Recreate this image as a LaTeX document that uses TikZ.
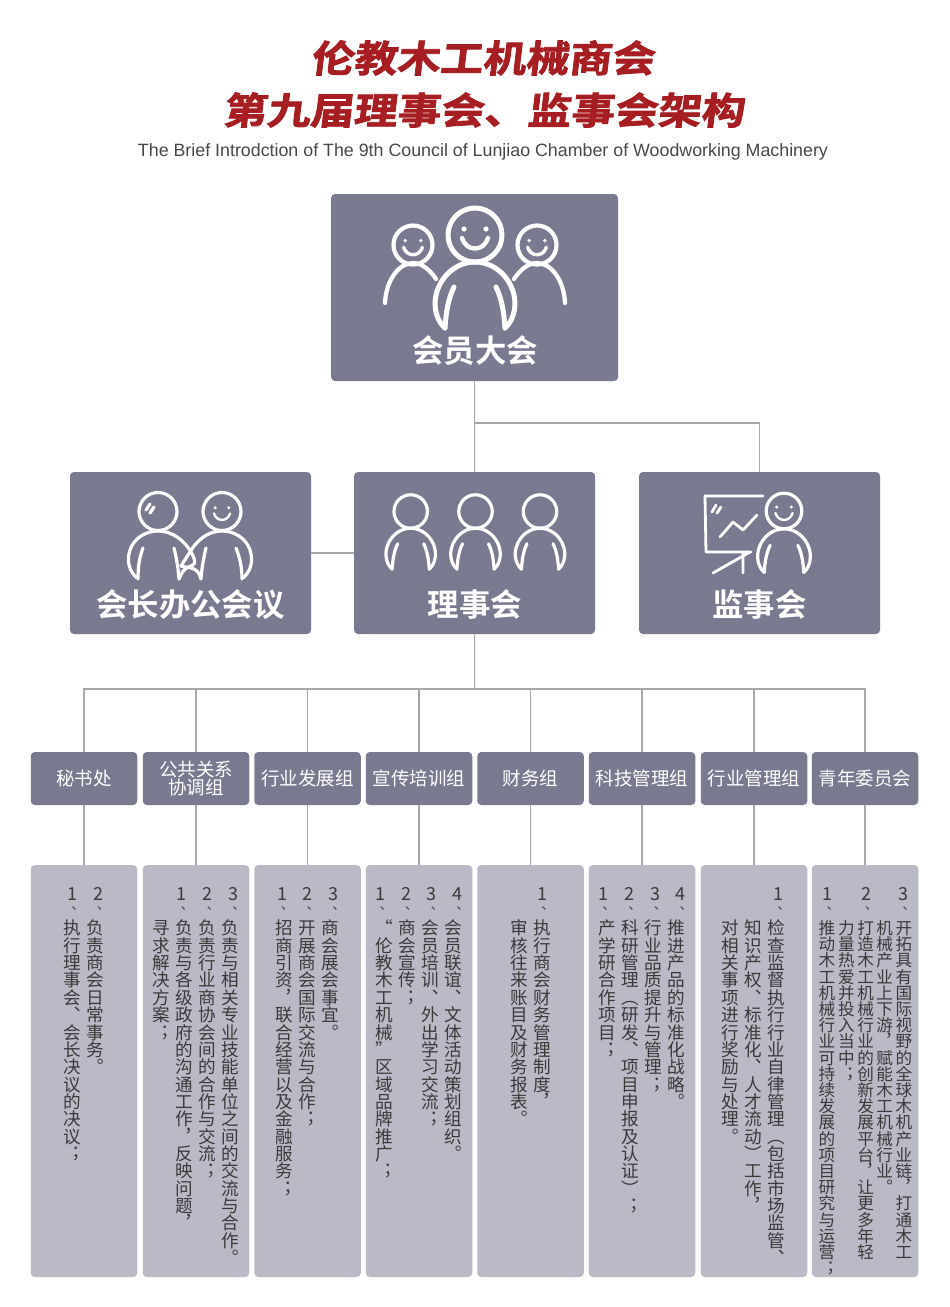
\documentclass[tikz,border=0pt]{standalone}
\usepackage{fontspec}
\setmainfont{Noto Sans CJK SC}
\newfontfamily\vertfont[RawFeature=+vert]{Noto Sans CJK SC}
\newfontfamily\flatfont{Noto Sans CJK SC}
\newfontfamily\titlefont[FakeSlant=0.12,FakeStretch=1.16,FakeBold=2.2]{Noto Sans CJK SC Bold}
\newfontfamily\boldfont{Noto Sans CJK SC Bold}
\newfontfamily\latinfont{Liberation Sans}
\definecolor{boxdark}{HTML}{797A90}
\definecolor{boxlight}{HTML}{B9BAC6}
\definecolor{linegray}{HTML}{A8A8A8}
\definecolor{titlered}{HTML}{A61E22}
\definecolor{dutyink}{HTML}{3A3A3A}
\def\stackpitch{17.35pt}
\protected\def\flatq#1{{\flatfont #1}}
\makeatletter
\newcommand{\vstackdo}[1]{\vbox{\baselineskip=\stackpitch\lineskiplimit=-\maxdimen
    \@tfor\stackch:=#1\do{\hbox to 2em{\hss\rule{0pt}{0.88em}\stackch\hss}}}}
\makeatother
\newcommand{\vstack}[1]{\edef\stacktmp{#1}\expandafter\vstackdo\expandafter{\stacktmp}}
\newcommand{\numstack}[1]{\vbox{\baselineskip=\stackpitch\lineskiplimit=-\maxdimen
    \hbox to 2em{\hss\rule{0pt}{0.88em}{\flatfont\fontsize{18}{18}\selectfont #1}\hss}
    \hbox to 2em{\hss\kern-4.6pt\rule{0pt}{0.88em}{\vertfont\fontsize{13}{13}\selectfont 、}\hss}}}
\tikzset{
    person/.pic={
        \draw[iconline,pic actions] (0,0) circle (27);
        \draw[iconline,pic actions] (-30,93) .. controls (-36,88) and (-43,75) .. (-38.5,58) .. controls (-33,39) and (-17,27) .. (0,27) .. controls (17,27) and (33,39) .. (38.5,58) .. controls (43,75) and (36,88) .. (30,93);
        \draw[iconline,pic actions] (-21,52) .. controls (-27,64) and (-29,78) .. (-30,93);
        \draw[iconline,pic actions] (21,52) .. controls (27,64) and (29,78) .. (30,93);
    },
    smile/.pic={
        \fill[white] (-11,-6) circle (2.6);
        \fill[white] (11,-6) circle (2.6);
        \draw[iconline,pic actions] (-13,3) .. controls (-9,17) and (9,17) .. (13,3);
    },
    sideperson/.pic={
        \draw[iconline,pic actions] (0,0) circle (19.5);
        \draw[iconline,pic actions] (-28,58) .. controls (-27,35) and (-14,18) .. (0,18) .. controls (9,18) and (17,25) .. (23,34);
    }
}
\begin{document}
\begin{tikzpicture}[x=1pt,y=-1pt]
    \tikzstyle{iconline}=[draw=white,line cap=round,line join=round]
    \tikzstyle{bigbox}=[rectangle,fill=boxdark,rounded corners=4pt,inner sep=0pt,outer sep=0pt]
    \tikzstyle{biglabel}=[text=white,inner sep=0pt,font=\boldfont\fontsize{31.4}{31}\selectfont]
    \tikzstyle{groupbox}=[bigbox,minimum width=106.5pt,minimum height=53pt,text=white,align=center,font=\fontsize{18.5}{18}\selectfont]
    \tikzstyle{dutybox}=[rectangle,fill=boxlight,rounded corners=4pt,inner sep=0pt,outer sep=0pt,minimum width=106.5pt,minimum height=412pt]
    \tikzstyle{dutytext}=[anchor=north,inner sep=0pt,text=dutyink,font=\vertfont\fontsize{17.6}{17}\selectfont]
    \tikzstyle{conn}=[draw=linegray,line width=1.3pt]
    \useasboundingbox (0,0) rectangle (950,1307);

    \node[text=titlered,inner sep=0pt,font=\titlefont\fontsize{37}{37}\selectfont] (titleone) at (482.5,58) {伦教木工机械商会};
    \node[text=titlered,inner sep=0pt,xscale=1.012,transform shape,font=\titlefont\fontsize{37}{37}\selectfont] (titletwo) at (483.5,110) {第九届理事会、监事会架构};
    \node[text=black!72,inner sep=0pt,font=\latinfont\fontsize{17.82}{18}\selectfont] (subtitle) at (483,151.5) {The Brief Introdction of The 9th Council of Lunjiao Chamber of Woodworking Machinery};

    \node[bigbox,minimum width=287pt,minimum height=187pt] (assembly) at (474.6,287.5) {};
    \node[bigbox,minimum width=241pt,minimum height=162pt] (office) at (190.5,553) {};
    \node[bigbox,minimum width=241pt,minimum height=162pt] (council) at (474.6,553) {};
    \node[bigbox,minimum width=241pt,minimum height=162pt] (supervisors) at (759.5,553) {};
    \node[biglabel] (assemblylabel) at (475,351) {会员大会};
    \node[biglabel] (officelabel) at (190.5,605) {会长办公会议};
    \node[biglabel] (councillabel) at (475,605) {理事会};
    \node[biglabel] (supervisorslabel) at (759.5,605) {监事会};

    \foreach \groupx/\grouptext [count=\i] in {84/秘书处,196/{公共关系\\协调组},307.5/行业发展组,419/宣传培训组,530.5/财务组,642/科技管理组,754/行业管理组,865/青年委员会}
    {
        \node[groupbox] (group\i) at (\groupx,778.5) {\grouptext};
        \node[dutybox] (duty\i) at (\groupx,1071) {};
        \draw[conn] (group\i.south) -- (duty\i.north);
    }

    \coordinate (hubtop) at (assembly.south |- 0,423);
    \coordinate (hubgroups) at (council.south |- 0,689);
    \draw[conn] (assembly.south) -- (council.north);
    \draw[conn] (hubtop) -| (supervisors.north);
    \draw[conn] (office.east) -- (council.west);
    \draw[conn] (council.south) -- (hubgroups);
    \draw[conn] (group1.north) |- (hubgroups) -| (group8.north);
    \foreach \i in {2,...,7}
        \draw[conn] (group\i.north) -- (group\i.north |- hubgroups);

    \pic[line width=5pt] at (475,235) {person};
    \pic[line width=4.4pt] at (475,235) {smile};
    \pic[line width=4.2pt] at (413,245) {sideperson};
    \pic[scale=.72,line width=3.4pt] at (413,245) {smile};
    \pic[line width=4.2pt,xscale=-1] at (537,245) {sideperson};
    \pic[scale=.72,line width=3.4pt] at (537,245) {smile};

    \foreach \headx in {410.7,475.5,540}
        \pic[scale=.62,line width=3.2pt] at (\headx,511.5) {person};

    \begin{scope}[line width=3.2pt]
        \draw[iconline] (158,511.5) circle (19);
        \draw[iconline] (222,511.5) circle (19);
        \pic[scale=.62,line width=2.4pt] at (222,511.5) {smile};
        \draw[iconline] (146,510) -- (150,504);
        \draw[iconline] (150,513) -- (154,507);
        \draw[iconline] (137,578) .. controls (130,572) and (126,562) .. (130,550) .. controls (134,538) and (146,531) .. (158,531) .. controls (172,531) and (184,540) .. (191,552) .. controls (195,559) and (196,563) .. (193,565) .. controls (190,567) and (184,566) .. (179,579) .. controls (178,566) and (176,556) .. (174,548);
        \draw[iconline] (143,548) .. controls (139,558) and (138,568) .. (138,579);
        \draw[iconline] (243,578) .. controls (250,572) and (254,562) .. (250,550) .. controls (246,538) and (234,531) .. (222,531) .. controls (208,531) and (197,540) .. (190,552) .. controls (186,558) and (183,563) .. (181,566) .. controls (188,568) and (198,566) .. (201,579) .. controls (202,566) and (204,556) .. (206,548);
        \draw[iconline] (236,548) .. controls (240,558) and (242,568) .. (242,579);
    \end{scope}

    \pic[scale=.66,line width=3.2pt] at (784,511) {person};
    \pic[scale=.66,line width=2.4pt] at (784,511) {smile};
    \begin{scope}[line width=2.8pt]
        \draw[iconline] (763,496) -- (705,496) -- (706,552) -- (751,552);
        \draw[iconline] (713,573) -- (750,552) (743,553) -- (743,573);
        \draw[iconline] (720,537) -- (733,522) -- (743,530) -- (757,515);
        \draw[iconline] (712,512) -- (716,505) (717,513) -- (721,507);
    \end{scope}

    \foreach \numx/\numtext [count=\i] in {72.3/1,98/2,181.7/1,207.7/2,233.3/3,282/1,307.7/2,333.3/3,380.7/1,406/2,431.7/3,457.3/4,542.3/1,603.3/1,629.3/2,655/3,680.7/4,778.3/1,827.7/1,866/2,903.3/3}
        \node[dutytext,font=\flatfont\fontsize{16.6}{17}\selectfont] (num\i) at (\numx,885.6) {\numstack{\numtext}};

    \foreach \colx/\coltext [count=\i] in {95.3/负责商会日常事务。,72/执行理事会、会长决议的决议；,230.3/负责与相关专业技能单位之间的交流与合作。,207/负责行业商协会间的合作与交流；,184/负责与各级政府的沟通工作，反映问题，,161/寻求解决方案；,330/商会展会事宜。,307/开展商会国际交流与合作；,284/招商引资，联合经营以及金融服务；,453.3/会员联谊、文体活动策划组织。,430/会员培训、外出学习交流；,407.3/商会宣传；,384/{\flatq{“}}伦教木工机械{\flatq{”}}区域品牌推广；,542/执行商会财务管理制度，,519/审核往来账目及财务报表。,676.7/推进产品的标准化战略。,653.3/行业品质提升与管理；,630.3/科研管理（研发、项目申报及认证）；,607.3/产学研合作项目；,776.7/检查监督执行行业自律管理（包括市场监管、,753.3/知识产权、标准化、人才流动）工作，,730.3/对相关事项进行奖励与处理。}
        \node[dutytext] (col\i) at (\colx,919.2) {\vstack{\coltext}};

    \def\stackpitch{16.2pt}
    \foreach \colx/\coltext [count=\i] in {904/开拓具有国际视野的全球木机产业链，打通木工,884.7/机械产业上下游，赋能木工机械行业。,865.7/打造木工机械行业的创新发展平台，让更多年轻,846.3/力量热爱并投入当中；,827/推动木工机械行业可持续发展的项目研究与运营；}
        \node[dutytext,font=\vertfont\fontsize{16.6}{16}\selectfont] (youthcol\i) at (\colx,919.7) {\vstack{\coltext}};
\end{tikzpicture}
\end{document}
